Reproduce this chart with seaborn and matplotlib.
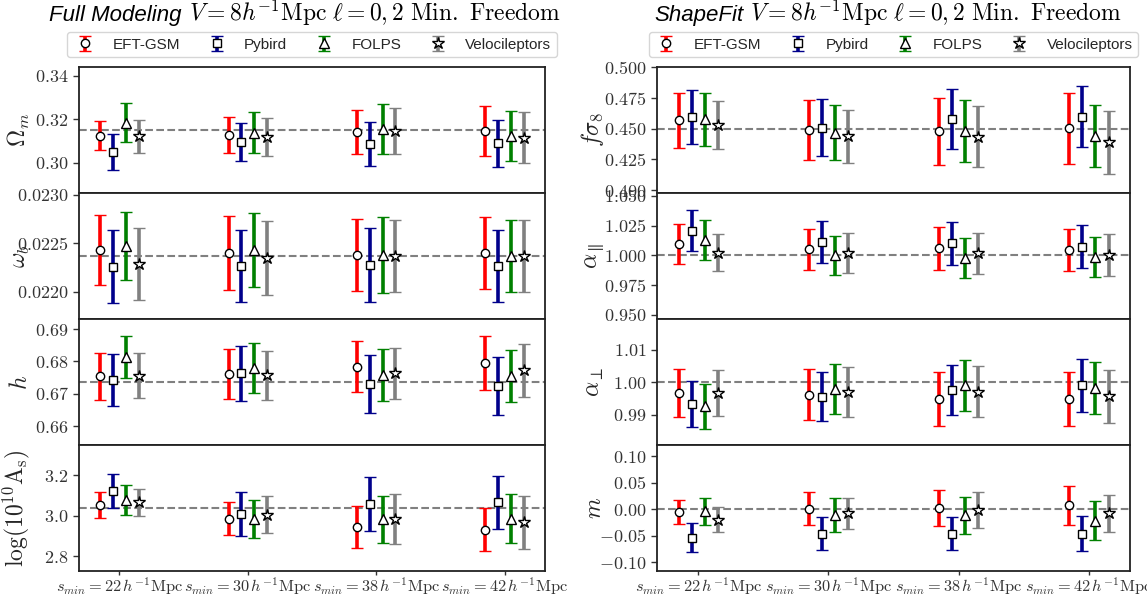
import numpy as np
import pandas as pd
import seaborn as sns
import matplotlib
matplotlib.use("Agg")
import matplotlib.pyplot as plt
from matplotlib.offsetbox import TextArea, HPacker, AnchoredOffsetbox

# ---------------- data ----------------
smin = [22, 30, 38, 42]
codes = ["EFT-GSM", "Pybird", "FOLPS", "Velocileptors"]
colors = ["red", "#00008b", "green", "gray"]
markers = ["o", "s", "^", "*"]
msizes = [6, 6, 7, 9]
offsets = [-0.15, -0.05, 0.05, 0.15]

# Full Modeling (rows: codes, cols: smin)
omega_m_val = [[0.3126, 0.3128, 0.3143, 0.3147],
               [0.3050, 0.3097, 0.3088, 0.3091],
               [0.3185, 0.3138, 0.3156, 0.3125],
               [0.3122, 0.3118, 0.3147, 0.3117]]
omega_m_err = [[0.0067, 0.0082, 0.0101, 0.0113],
               [0.0083, 0.0087, 0.0100, 0.0108],
               [0.0089, 0.0094, 0.0113, 0.0116],
               [0.0074, 0.0087, 0.0106, 0.0115]]
omega_b_val = [[0.02243, 0.02240, 0.02238, 0.02240],
               [0.02226, 0.02227, 0.02228, 0.02227],
               [0.02247, 0.02243, 0.02238, 0.02237],
               [0.02229, 0.02235, 0.02237, 0.02237]]
omega_b_err = [[0.00036, 0.00038, 0.00037, 0.00037],
               [0.00038, 0.00037, 0.00038, 0.00037],
               [0.00035, 0.00038, 0.00039, 0.00037],
               [0.00037, 0.00038, 0.00037, 0.00037]]
h_val = [[0.6754, 0.6761, 0.6784, 0.6795],
         [0.6742, 0.6763, 0.6731, 0.6724],
         [0.6813, 0.6781, 0.6757, 0.6756],
         [0.6756, 0.6757, 0.6763, 0.6773]]
h_err = [[0.0073, 0.0076, 0.0078, 0.0082],
         [0.0081, 0.0086, 0.0090, 0.0090],
         [0.0064, 0.0077, 0.0080, 0.0080],
         [0.0070, 0.0076, 0.0080, 0.0082]]
logAs_val = [[3.055, 2.985, 2.944, 2.932],
             [3.122, 3.008, 3.060, 3.066],
             [3.079, 2.985, 2.983, 2.985],
             [3.066, 3.005, 2.983, 2.967]]
logAs_err = [[0.065, 0.081, 0.103, 0.108],
             [0.083, 0.110, 0.133, 0.130],
             [0.073, 0.094, 0.117, 0.122],
             [0.065, 0.091, 0.123, 0.130]]

# ShapeFit
fs8_val = [[0.4568, 0.4492, 0.4478, 0.4503],
           [0.4595, 0.4508, 0.4582, 0.4598],
           [0.4576, 0.4467, 0.4481, 0.4440],
           [0.4530, 0.4440, 0.4435, 0.4389]]
fs8_err = [[0.0223, 0.0243, 0.0274, 0.0292],
           [0.0217, 0.0232, 0.0245, 0.0251],
           [0.0217, 0.0224, 0.0251, 0.0254],
           [0.0192, 0.0216, 0.0250, 0.0257]]
apar_val = [[1.0095, 1.0052, 1.0060, 1.0046],
            [1.0209, 1.0114, 1.0101, 1.0073],
            [1.0128, 1.0000, 0.9976, 0.9984],
            [1.0024, 1.0019, 1.0019, 1.0005]]
apar_err = [[0.0166, 0.0170, 0.0179, 0.0177],
            [0.0173, 0.0179, 0.0177, 0.0181],
            [0.0167, 0.0166, 0.0168, 0.0167],
            [0.0158, 0.0167, 0.0174, 0.0177]]
aperp_val = [[0.9967, 0.9962, 0.9949, 0.9949],
             [0.9933, 0.9955, 0.9976, 0.9990],
             [0.9926, 0.9979, 0.9990, 0.9982],
             [0.9967, 0.9969, 0.9971, 0.9957]]
aperp_err = [[0.0073, 0.0078, 0.0083, 0.0083],
             [0.0071, 0.0075, 0.0078, 0.0082],
             [0.0069, 0.0076, 0.0079, 0.0081],
             [0.0071, 0.0077, 0.0079, 0.0081]]
m_val = [[-0.0051, 0.0006, 0.0025, 0.0070],
         [-0.0538, -0.0462, -0.0462, -0.0462],
         [-0.0038, -0.0114, -0.0114, -0.0222],
         [-0.0196, -0.0082, -0.0019, -0.0082]]
m_err = [[0.0228, 0.0310, 0.0342, 0.0361],
         [0.0275, 0.0316, 0.0320, 0.0332],
         [0.0253, 0.0323, 0.0351, 0.0367],
         [0.0243, 0.0294, 0.0342, 0.0351]]

fm_labels = [r"$\Omega_m$", r"$\omega_b$", r"$h$", r"$\log(10^{10}{\rm A_s})$"]
fm_truth = [0.315, 0.02237, 0.6736, 3.0364]
fm_ylims = [(0.2862, 0.3441), (0.02172, 0.02302), (0.6542, 0.6931), (2.727, 3.35)]
fm_ticks = [[0.30, 0.32, 0.34], [0.0220, 0.0225, 0.0230], [0.66, 0.67, 0.68, 0.69], [2.8, 3.0, 3.2]]
fm_dec = [2, 4, 2, 1]

sf_labels = [r"$f\sigma_8$", r"$\alpha_\parallel$", r"$\alpha_\perp$", r"$m$"]
sf_truth = [0.450, 1.0, 1.0, 0.0]
sf_ylims = [(0.3976, 0.5003), (0.9466, 1.0525), (0.9807, 1.0194), (-0.117, 0.1214)]
sf_ticks = [[0.400, 0.425, 0.450, 0.475, 0.500], [0.950, 0.975, 1.000, 1.025, 1.050],
            [0.99, 1.00, 1.01], [-0.10, -0.05, 0.00, 0.05, 0.10]]
sf_dec = [3, 3, 2, 2]

xtick_labels = [r"$s_{min}=%d\,h^{-1}{\rm Mpc}$" % s for s in smin]

# ---------------- style ----------------
sns.set_theme(style="ticks")
plt.rcParams["font.family"] = ["Liberation Sans", "DejaVu Sans"]
plt.rcParams["mathtext.fontset"] = "cm"

fig = plt.figure(figsize=(11.47, 6.0), dpi=100)
W, H = 1147, 600
gs_l = fig.add_gridspec(4, 1, left=79 / W, right=545 / W, top=1 - 67 / H, bottom=1 - 571 / H, hspace=0)
gs_r = fig.add_gridspec(4, 1, left=657 / W, right=1130 / W, top=1 - 67 / H, bottom=1 - 571 / H, hspace=0)


def draw_column(gs, vals, errs, labels, truths, ylims, ticks, decs, labx):
    axes = []
    x = np.arange(len(smin))
    for r in range(4):
        ax = fig.add_subplot(gs[r, 0], sharex=axes[0] if axes else None)
        axes.append(ax)
        ax.axhline(truths[r], color="gray", ls="--", lw=1.5, zorder=1)
        handles = []
        for c in range(len(codes)):
            cont = ax.errorbar(x + offsets[c], vals[r][c], yerr=errs[r][c], fmt=markers[c],
                               color=colors[c], ecolor=colors[c], mfc="white", mec="black",
                               mew=1.0, ms=msizes[c], elinewidth=2.6, capsize=4.5, capthick=2.0,
                               label=codes[c], zorder=3)
            handles.append(cont)
        ax.set_ylim(*ylims[r])
        ax.set_yticks(ticks[r], labels=["$%.*f$" % (decs[r], t) for t in ticks[r]])
        ax.set_ylabel(labels[r], fontsize=17)
        ax.yaxis.set_label_coords(labx, 0.5)
        ax.tick_params(axis="y", labelsize=13, length=4, width=1, direction="out", colors="#333333",
                       labelcolor="#333333")
        ax.tick_params(axis="x", length=3, width=1, direction="out")
        for sp in ax.spines.values():
            sp.set_linewidth(1.3)
            sp.set_color("#222222")
        if r < 3:
            ax.tick_params(axis="x", labelbottom=False)
        if r == 0:
            top_handles = handles
    axes[-1].set_xticks(x, labels=xtick_labels)
    axes[-1].tick_params(axis="x", labelsize=11.8, pad=0.5, colors="#333333", labelcolor="#333333")
    axes[0].set_xlim(-0.315, 3.315)
    axes[0].legend(handles=top_handles, labels=codes, loc="lower center",
                   bbox_to_anchor=(0.5, 1.0 + 10 / 126), borderaxespad=0, ncol=4,
                   fontsize=11, handlelength=1.6, handletextpad=1.0, columnspacing=1.6,
                   borderpad=0.35, frameon=True, fancybox=True, framealpha=0.8, edgecolor="#cccccc")
    return axes


axL = draw_column(gs_l, [omega_m_val, omega_b_val, h_val, logAs_val],
                  [omega_m_err, omega_b_err, h_err, logAs_err],
                  fm_labels, fm_truth, fm_ylims, fm_ticks, fm_dec, -0.10)
axR = draw_column(gs_r, [fs8_val, apar_val, aperp_val, m_val],
                  [fs8_err, apar_err, aperp_err, m_err],
                  sf_labels, sf_truth, sf_ylims, sf_ticks, sf_dec, -0.108)


def add_title(lead, xc):
    t1 = TextArea(lead, textprops=dict(fontsize=16, style="italic", color="black",
                                       family=["Liberation Sans", "DejaVu Sans"]))
    t2 = TextArea(r"$V=8h^{-1}{\rm Mpc}\ \ell=0,2\ {\rm Min.\ Freedom}$",
                  textprops=dict(fontsize=17, color="black"))
    pack = HPacker(children=[t1, t2], align="baseline", pad=0, sep=5)
    box = AnchoredOffsetbox(loc="lower center", child=pack, pad=0, borderpad=0, frameon=False,
                            bbox_to_anchor=(xc, 1 - 28 / H), bbox_transform=fig.transFigure)
    fig.add_artist(box)


add_title("Full Modeling", 305 / W)
add_title("ShapeFit", 888 / W)

fig.savefig("out.png", dpi=100)
